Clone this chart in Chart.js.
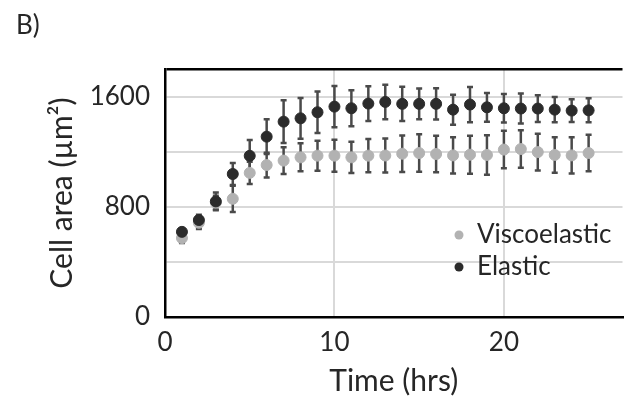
<!DOCTYPE html>
<html>
<head>
<meta charset="utf-8">
<script src="https://cdn.jsdelivr.net/npm/chart.js@4/dist/chart.umd.min.js"></script>
<style>
    html, body { margin: 0; padding: 0; background: #fff; overflow: hidden; }
    .wrap { width: 629px; height: 403px; }
</style>
</head>
<body>
<div class="wrap"><canvas id="cellArea"></canvas></div>
<script>
// values
let hours = [1, 2, 3, 4, 5, 6, 7, 8, 9, 10, 11, 12, 13, 14, 15, 16, 17, 18, 19, 20, 21, 22, 23, 24, 25];
let viscoelastic = [573, 684, 830, 858, 1046, 1103, 1135, 1159, 1171, 1171, 1159, 1171, 1172, 1185, 1190, 1183, 1173, 1178, 1176, 1215, 1219, 1197, 1176, 1173, 1190];
let viscoelasticErr = [35, 45, 50, 95, 80, 90, 97, 102, 109, 116, 113, 121, 124, 133, 136, 133, 131, 138, 143, 136, 136, 133, 129, 131, 133];
let elastic = [618, 704, 839, 1038, 1170, 1309, 1418, 1442, 1486, 1527, 1515, 1549, 1561, 1547, 1547, 1547, 1505, 1542, 1522, 1515, 1513, 1513, 1505, 1498, 1500];
let elasticErr = [25, 38, 64, 80, 114, 126, 155, 148, 150, 150, 131, 126, 125, 124, 111, 114, 109, 128, 104, 104, 109, 97, 92, 82, 87];
let yGrid = [0, 400, 800, 1200, 1600, 1800];
let yTicks = [0, 800, 1600];

let font = "Lato, 'Open Sans', sans-serif";
let textColor = '#262626';

function toPoints(xs, ys) {
    return xs.map((x, i) => ({ x: x, y: ys[i] }));
}

// error bars, drawn under the markers
let errorBars = {
    id: 'errorBars',
    beforeDatasetsDraw(chart) {
        let ctx = chart.ctx, xs = chart.scales.x, ys = chart.scales.y;
        ctx.save();
        ctx.strokeStyle = '#4a4a4a';
        ctx.lineWidth = 2.5;
        chart.data.datasets.forEach(ds => {
            ds.data.forEach((p, i) => {
                let e = ds.errors[i];
                let px = xs.getPixelForValue(p.x);
                let top = ys.getPixelForValue(p.y + e);
                let bot = ys.getPixelForValue(p.y - e);
                ctx.beginPath();
                ctx.moveTo(px, top);
                ctx.lineTo(px, bot);
                ctx.moveTo(px - 3, top);
                ctx.lineTo(px + 3, top);
                ctx.moveTo(px - 3, bot);
                ctx.lineTo(px + 3, bot);
                ctx.stroke();
            });
        });
        ctx.restore();
    }
};

// legend sits inside the plot, lower right
let insideLegend = {
    id: 'insideLegend',
    afterDraw(chart) {
        let ctx = chart.ctx, area = chart.chartArea;
        ctx.save();
        ctx.font = '26px ' + font;
        ctx.textBaseline = 'middle';
        chart.data.datasets.forEach((ds, i) => {
            let mx = area.left + 294, my = area.top + 166 + i * 32;
            ctx.fillStyle = ds.backgroundColor;
            ctx.beginPath();
            ctx.arc(mx, my, 4.5, 0, Math.PI * 2);
            ctx.fill();
            ctx.fillStyle = textColor;
            ctx.fillText(ds.label, mx + 18, my);
        });
        ctx.restore();
    }
};

let ctx = document.getElementById('cellArea').getContext('2d');
let cellChart = new Chart(ctx, {
    type: 'scatter',
    data: {
        datasets: [{
            label: 'Viscoelastic',
            data: toPoints(hours, viscoelastic),
            errors: viscoelasticErr,
            backgroundColor: '#b2b2b2',
            borderColor: '#b2b2b2',
            pointRadius: 5.5,
            order: 2
        }, {
            label: 'Elastic',
            data: toPoints(hours, elastic),
            errors: elasticErr,
            backgroundColor: '#2b2b2b',
            borderColor: '#2b2b2b',
            pointRadius: 5.5,
            order: 1
        }]
    },
    options: {
        responsive: true,
        maintainAspectRatio: false,
        animation: false,
        layout: { padding: { left: 16, top: 0, right: 0, bottom: 4 } },
        plugins: {
            legend: { display: false },
            tooltip: { enabled: false },
            title: {
                display: true,
                text: 'B)',
                align: 'start',
                color: textColor,
                font: { family: font, size: 26, weight: 'normal' },
                padding: { top: 10, bottom: 27.8 }
            }
        },
        scales: {
            x: {
                type: 'linear',
                min: 0,
                max: 27,
                afterFit: s => { s.height = 82; },
                border: { color: '#000', width: 2.5 },
                grid: { color: '#d9d9d9', lineWidth: 2, drawTicks: false },
                ticks: {
                    stepSize: 10,
                    includeBounds: false,
                    autoSkip: false,
                    padding: 10,
                    color: textColor,
                    font: { family: font, size: 26 }
                },
                title: {
                    display: true,
                    text: 'Time (hrs)',
                    color: textColor,
                    font: { family: font, size: 30 },
                    padding: { top: 0, bottom: 0 }
                }
            },
            y: {
                min: 0,
                max: 1800,
                afterBuildTicks: s => { s.ticks = yGrid.map(v => ({ value: v })); },
                afterFit: s => { s.width = 149; },
                border: { color: '#000', width: 2.5 },
                grid: {
                    color: c => c.tick && c.tick.value === 1800 ? '#000' : '#d9d9d9',
                    lineWidth: c => c.tick && c.tick.value === 1800 ? 2.5 : 2,
                    drawTicks: false
                },
                ticks: {
                    autoSkip: false,
                    padding: 15,
                    color: textColor,
                    font: { family: font, size: 26 },
                    callback: v => yTicks.includes(v) ? v : ''
                },
                title: {
                    display: true,
                    text: 'Cell area (µm²)',
                    color: textColor,
                    font: { family: font, size: 30 },
                    padding: { top: 28, bottom: 0 }
                }
            }
        }
    },
    plugins: [errorBars, insideLegend]
});
</script>
</body>
</html>
